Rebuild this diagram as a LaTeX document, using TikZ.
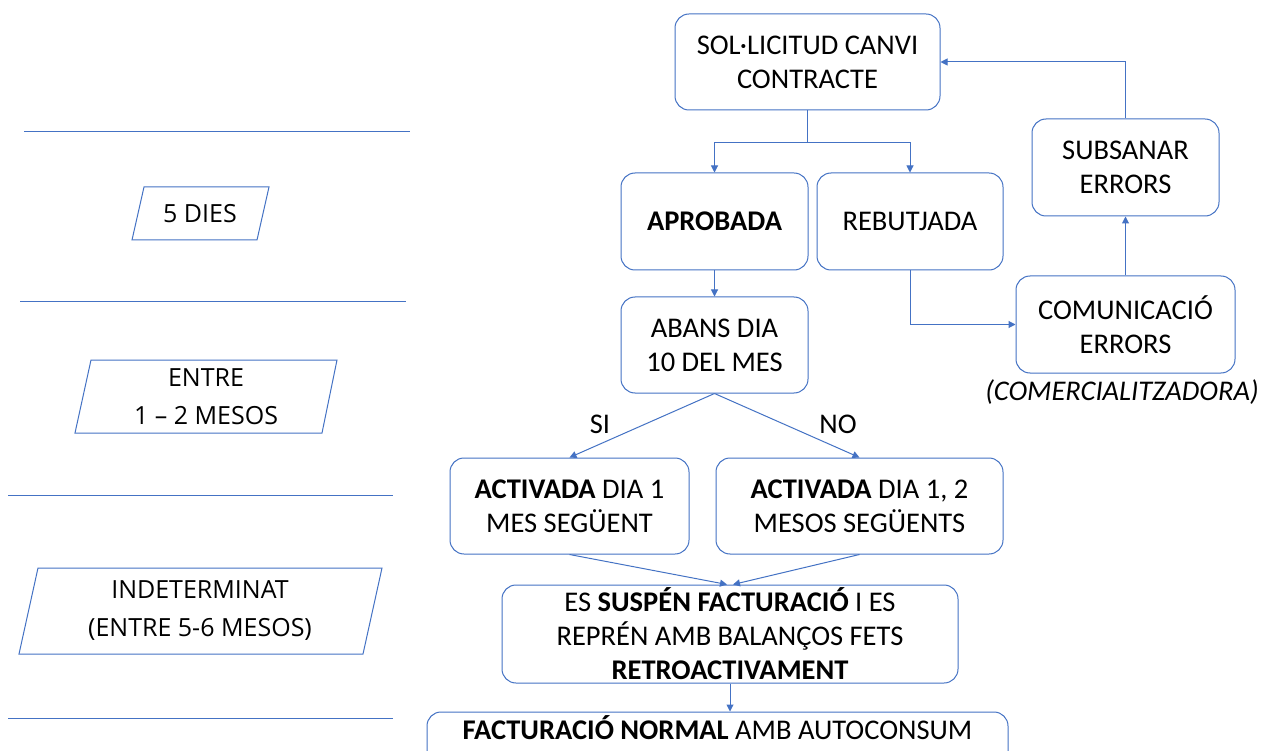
\documentclass[tikz,border=0pt]{standalone}
\usepackage{fontspec}
\setmainfont{Carlito}
\newfontfamily\leftfont{Open Sans}
\usetikzlibrary{arrows.meta}
\definecolor{lineblue}{HTML}{4472C4}
\begin{document}
\begin{tikzpicture}[x=1pt,y=-1pt,
  box/.style={draw=lineblue, line width=1pt, rounded corners=14pt, align=center,
    font=\fontsize{28.5}{34}\selectfont, inner sep=0pt},
  conn/.style={draw=lineblue, line width=1pt, -{Triangle[width=7pt,length=7pt]}},
  plain/.style={draw=lineblue, line width=1pt},
  lbl/.style={align=center, font=\leftfont\fontsize{25}{38}\selectfont},
  txt/.style={font=\fontsize{28.5}{34}\selectfont}]
\useasboundingbox (0,0) rectangle (1266,751);
\clip (0,0) rectangle (1266,751);
\fill[white] (0,0) rectangle (1266,751);

% left timeline
\draw[plain] (24,132) -- (410,132);
\draw[plain] (20,302) -- (406,302);
\draw[plain] (8,495) -- (393,495);
\draw[plain] (8,718) -- (393,718);

\draw[plain] (144,187) -- (269,187) -- (257,240) -- (132,240) -- cycle;
\node[lbl] (d5) at (200,214) {5 DIES};
\draw[plain] (91,360) -- (337,360) -- (322,433) -- (75,433) -- cycle;
\node[lbl] (d12) at (206,397) {ENTRE\\1 – 2 MESOS};
\draw[plain] (38,568) -- (382,568) -- (363,654) -- (19,654) -- cycle;
\node[lbl] (dind) at (200,611) {INDETERMINAT\\(ENTRE 5-6 MESOS)};

% flowchart
\node[box, minimum width=265pt, minimum height=96pt] (sol) at (807.5,62) {SOL·LICITUD CANVI\\CONTRACTE};
\node[box, minimum width=187pt, minimum height=97pt] (apro) at (714.5,221.5) {\textbf{APROBADA}};
\node[box, minimum width=186pt, minimum height=97pt] (rebu) at (910,221.5) {REBUTJADA};
\node[box, minimum width=187pt, minimum height=97pt] (subs) at (1125.5,167.5) {SUBSANAR\\ERRORS};
\node[box, minimum width=219pt, minimum height=97pt] (comu) at (1125.5,324.5) {COMUNICACIÓ\\ERRORS};
\node[txt, font=\fontsize{28.5}{34}\selectfont\itshape] (comer) at (1122,392) {(COMERCIALITZADORA)};
\node[box, minimum width=187pt, minimum height=96pt] (abans) at (714.5,345) {ABANS DIA\\10 DEL MES};
\node[box, minimum width=239pt, minimum height=96pt] (act1) at (569.5,506) {\textbf{ACTIVADA} DIA 1\\MES SEGÜENT};
\node[box, minimum width=287pt, minimum height=96pt] (act2) at (859.5,506) {\textbf{ACTIVADA} DIA 1, 2\\MESOS SEGÜENTS};
\node[box, minimum width=456pt, minimum height=98pt] (susp) at (730,634) {ES \textbf{SUSPÉN FACTURACIÓ} I ES\\REPRÉN AMB BALANÇOS FETS\\\textbf{RETROACTIVAMENT}};
\node[box, minimum width=581pt, minimum height=76pt] (fact) at (717.5,750) {\textbf{FACTURACIÓ NORMAL} AMB AUTOCONSUM\\\strut};

\node[txt] (si) at (600,424) {SI};
\node[txt] (no) at (838,424) {NO};

% connectors
\draw[conn] (sol.south) -- ++(0,32) -| (apro.north);
\draw[conn] (sol.south) -- ++(0,32) -| (rebu.north);
\draw[conn] (apro.south) -- (abans.north);
\draw[conn] (rebu.south) |- (comu.west);
\draw[conn] (comu.north) -- (subs.south);
\draw[conn] (subs.north) |- (sol.east);
\draw[conn] (abans.south) -- (act1.north);
\draw[conn] (abans.south) -- (act2.north);
\draw[conn] (act1.south) -- ([xshift=-3pt]susp.north);
\draw[conn] (act2.south) -- ([xshift=3pt]susp.north);
\draw[conn] (susp.south) -- (susp.south |- fact.north);
\end{tikzpicture}
\end{document}
